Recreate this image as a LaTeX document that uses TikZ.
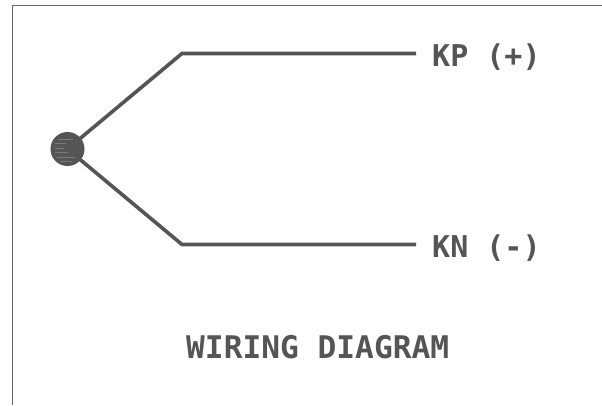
\documentclass[tikz,border=0pt]{standalone}
\usepackage{fontspec}
\setmainfont{DejaVu Sans Mono}[BoldFont={DejaVu Sans Mono Bold}]
\definecolor{ink}{HTML}{555555}
\definecolor{hatch}{HTML}{7A7A7A}
\definecolor{frameink}{HTML}{666666}
\tikzset{
  wire/.style={draw=ink,line width=3.6pt,line join=miter},
  labeltext/.style={text=ink,font=\fontsize{30}{30}\selectfont\bfseries,inner sep=0pt,anchor=base west},
  titletext/.style={text=ink,font=\fontsize{31.2}{31}\selectfont\bfseries,inner sep=0pt,anchor=base west},
  junction/.style={circle,draw=ink,fill=ink,line width=1pt,minimum size=33pt,inner sep=0pt}
}
\begin{document}
\begin{tikzpicture}[x=1pt,y=-1pt]
\useasboundingbox (0,0) rectangle (602,405);
\fill[white] (0,0) rectangle (602,405);
\draw[frameink,line width=1.4pt] (12.5,405) -- (12.5,5.5) -- (602,5.5);
\node[junction] (j) at (67.5,149) {};
\coordinate (a) at (182,53.5);
\coordinate (b) at (182,244.5);
\coordinate (c) at (416,53.5);
\coordinate (d) at (416,244.5);
\draw[hatch,line width=0.9pt] (58,139) -- (73,139) (55,143.5) -- (66,143.5) (55,148) -- (64,148) (55,152.5) -- (68,152.5) (57,157) -- (76,157) (60,161) -- (72,161);
\draw[wire] (j.center) -- (a) -- (c);
\draw[wire] (j.center) -- (b) -- (d);
\node[labeltext] (kp) at (432,66) {KP (+)};
\node[labeltext] (kn) at (432,257) {KN (-)};
\node[titletext] (title) at (186,358) {WIRING DIAGRAM};
\end{tikzpicture}
\end{document}
